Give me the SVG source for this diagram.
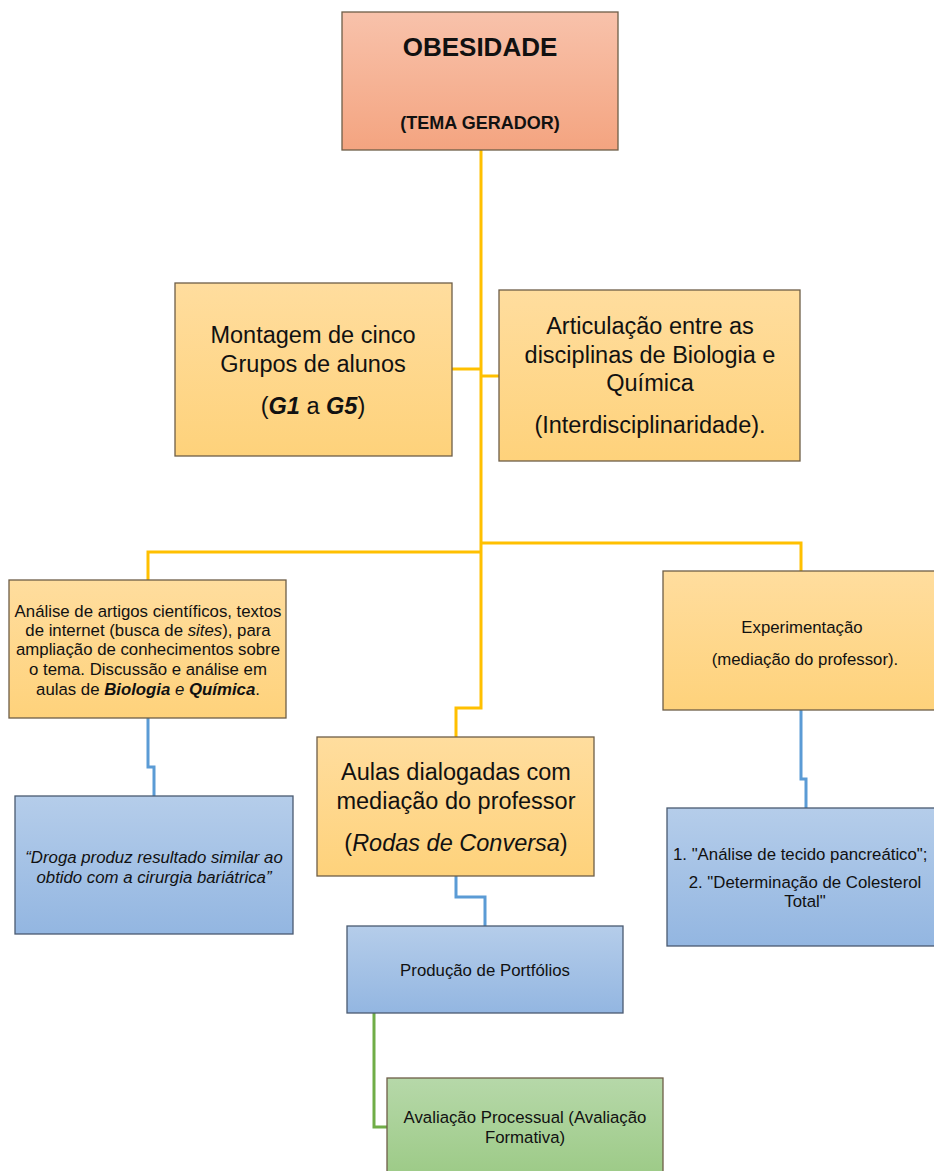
<svg xmlns="http://www.w3.org/2000/svg" width="934" height="1171" viewBox="0 0 934 1171">
<defs>
<linearGradient id="gS" x1="0" y1="0" x2="0" y2="1"><stop offset="0" stop-color="#F8C2AB"/><stop offset="1" stop-color="#F4A480"/></linearGradient>
<linearGradient id="gY" x1="0" y1="0" x2="0" y2="1"><stop offset="0" stop-color="#FFDD9E"/><stop offset="1" stop-color="#FED27B"/></linearGradient>
<linearGradient id="gB" x1="0" y1="0" x2="0" y2="1"><stop offset="0" stop-color="#B5CDEA"/><stop offset="1" stop-color="#93B6E1"/></linearGradient>
<linearGradient id="gG" x1="0" y1="0" x2="0" y2="1"><stop offset="0" stop-color="#B6D8A9"/><stop offset="1" stop-color="#9CCA86"/></linearGradient>
</defs>
<style>
.box{stroke:#6E5E48;stroke-width:1.3}
.bb{stroke:#4A5A70;stroke-width:1.3}
.t{font-family:"Liberation Sans",Arial,sans-serif;fill:#111;text-anchor:middle}
.L{font-size:23.5px}
.s{font-size:16.8px}
.cy{fill:none;stroke:#FFC000;stroke-width:3}
.cb{fill:none;stroke:#5B9BD5;stroke-width:3}
.cg{fill:none;stroke:#70AD47;stroke-width:3}
</style>
<rect width="934" height="1171" fill="#fff"/>
<g id="connectors">
<polyline class="cy" points="481,150 481,708 456,708 456,737"/>
<polyline class="cy" points="452,369 481,369"/>
<polyline class="cy" points="481,376 499,376"/>
<polyline class="cy" points="481,552 148,552 148,580"/>
<polyline class="cy" points="481,543 801,543 801,571"/>
<polyline class="cb" points="148,718 148,767 154,767 154,796"/>
<polyline class="cb" points="801,710 801,779 806,779 806,808"/>
<polyline class="cb" points="456,876 456,897 485,897 485,926"/>
<polyline class="cg" points="374,1013 374,1127 387,1127"/>
</g>
<g id="obesidade">
<rect class="box" x="342" y="12" width="276" height="138" fill="url(#gS)"/>
<text class="t" x="480" y="56" font-size="26" font-weight="bold">OBESIDADE</text>
<text class="t" x="480" y="129" font-size="18" font-weight="bold">(TEMA GERADOR)</text>
</g>
<g id="montagem">
<rect class="box" x="175" y="283" width="277" height="173" fill="url(#gY)"/>
<text class="t L" x="313" y="343">Montagem de cinco</text>
<text class="t L" x="313" y="372">Grupos de alunos</text>
<text class="t L" x="313" y="414">(<tspan font-weight="bold" font-style="italic">G1</tspan> a <tspan font-weight="bold" font-style="italic">G5</tspan>)</text>
</g>
<g id="articulacao">
<rect class="box" x="499" y="290" width="301" height="171" fill="url(#gY)"/>
<text class="t L" x="650" y="334">Articulação entre as</text>
<text class="t L" x="650" y="363">disciplinas de Biologia e</text>
<text class="t L" x="650" y="391">Química</text>
<text class="t L" x="650" y="433">(Interdisciplinaridade).</text>
</g>
<g id="analise">
<rect class="box" x="9" y="580" width="277" height="138" fill="url(#gY)"/>
<text class="t s" x="148" y="617">Análise de artigos científicos, textos</text>
<text class="t s" x="148" y="636">de internet (busca de <tspan font-style="italic">sites</tspan>), para</text>
<text class="t s" x="148" y="655">ampliação de conhecimentos sobre</text>
<text class="t s" x="148" y="675">o tema. Discussão e análise em</text>
<text class="t s" x="148" y="695">aulas de <tspan font-weight="bold" font-style="italic">Biologia</tspan> <tspan font-style="italic">e</tspan> <tspan font-weight="bold" font-style="italic">Química</tspan>.</text>
</g>
<g id="experimentacao">
<rect class="box" x="663" y="571" width="280" height="139" fill="url(#gY)"/>
<text class="t s" x="802" y="633">Experimentação</text>
<text class="t s" x="805" y="665">(mediação do professor).</text>
</g>
<g id="aulas">
<rect class="box" x="317" y="737" width="277" height="139" fill="url(#gY)"/>
<text class="t L" x="456" y="780">Aulas dialogadas com</text>
<text class="t L" x="456" y="809">mediação do professor</text>
<text class="t L" x="456" y="851">(<tspan font-style="italic">Rodas de Conversa</tspan>)</text>
</g>
<g id="droga">
<rect class="bb" x="15" y="796" width="278" height="138" fill="url(#gB)"/>
<text class="t s" x="154" y="863" font-style="italic">“Droga produz resultado similar ao</text>
<text class="t s" x="154" y="883" font-style="italic">obtido com a cirurgia bariátrica”</text>
</g>
<g id="experimentos">
<rect class="bb" x="667" y="808" width="280" height="138" fill="url(#gB)"/>
<text class="t s" x="673" y="860" text-anchor="start" style="text-anchor:start">1. "Análise de tecido pancreático";</text>
<text class="t s" x="805" y="888">2. "Determinação de Colesterol</text>
<text class="t s" x="805" y="907">Total"</text>
</g>
<g id="portfolios">
<rect class="bb" x="347" y="926" width="276" height="87" fill="url(#gB)"/>
<text class="t s" x="485" y="976">Produção de Portfólios</text>
</g>
<g id="avaliacao">
<rect class="box" x="387" y="1078" width="276" height="100" fill="url(#gG)"/>
<text class="t s" x="525" y="1123">Avaliação Processual (Avaliação</text>
<text class="t s" x="525" y="1143">Formativa)</text>
</g>
</svg>
